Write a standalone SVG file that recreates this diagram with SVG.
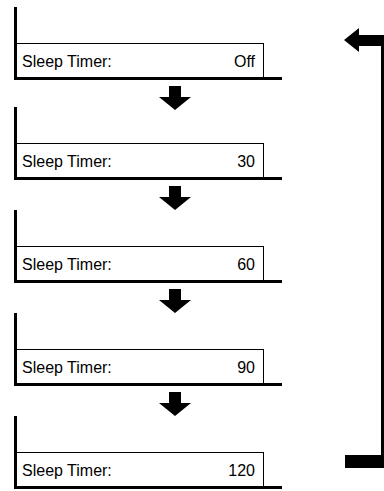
<svg xmlns="http://www.w3.org/2000/svg" xmlns:xlink="http://www.w3.org/1999/xlink" width="384" height="491" viewBox="0 0 384 491">
<style>
.box{fill:#fff;stroke:#000;stroke-width:1}
.thick{fill:#000}
.lbl{font-family:"Liberation Sans",Arial,sans-serif;font-size:16px;fill:#000}
.val{font-family:"Liberation Sans",Arial,sans-serif;font-size:16px;fill:#000;text-anchor:end}
</style>
<defs>
<polygon id="down" points="-6,0 6,0 6,11 16,11 0,24 -16,11 -6,11" fill="#000"/>
</defs>
<rect width="384" height="491" fill="#fff"/>
<g id="node-off">
<rect class="box" x="16.5" y="43.5" width="247" height="34"/>
<rect class="thick" x="14" y="7" width="3" height="73"/>
<rect class="thick" x="14" y="77" width="268" height="3"/>
<text class="lbl" x="22" y="67">Sleep Timer:</text>
<text class="val" x="255" y="67">Off</text>
</g>
<g id="node-30">
<rect class="box" x="16.5" y="143.5" width="247" height="34"/>
<rect class="thick" x="14" y="107" width="3" height="73"/>
<rect class="thick" x="14" y="177" width="268" height="3"/>
<text class="lbl" x="22" y="167">Sleep Timer:</text>
<text class="val" x="255" y="167">30</text>
</g>
<g id="node-60">
<rect class="box" x="16.5" y="246.5" width="247" height="34"/>
<rect class="thick" x="14" y="210" width="3" height="73"/>
<rect class="thick" x="14" y="280" width="268" height="3"/>
<text class="lbl" x="22" y="270">Sleep Timer:</text>
<text class="val" x="255" y="270">60</text>
</g>
<g id="node-90">
<rect class="box" x="16.5" y="349.5" width="247" height="34"/>
<rect class="thick" x="14" y="313" width="3" height="73"/>
<rect class="thick" x="14" y="383" width="268" height="3"/>
<text class="lbl" x="22" y="373">Sleep Timer:</text>
<text class="val" x="255" y="373">90</text>
</g>
<g id="node-120">
<rect class="box" x="16.5" y="452.5" width="247" height="34"/>
<rect class="thick" x="14" y="416" width="3" height="73"/>
<rect class="thick" x="14" y="486" width="268" height="3"/>
<text class="lbl" x="22" y="476">Sleep Timer:</text>
<text class="val" x="255" y="476">120</text>
</g>
<g id="connectors">
<use xlink:href="#down" href="#down" x="175" y="86"/>
<use xlink:href="#down" href="#down" x="175" y="186"/>
<use xlink:href="#down" href="#down" x="175" y="289"/>
<use xlink:href="#down" href="#down" x="175" y="392"/>
<g id="return">
<rect class="thick" x="345" y="455" width="39" height="13"/>
<rect class="thick" x="381" y="35" width="3" height="425"/>
<polygon points="344,40 359,28 359,35 384,35 384,46 359,46 359,52" fill="#000"/>
</g>
</g>
</svg>
